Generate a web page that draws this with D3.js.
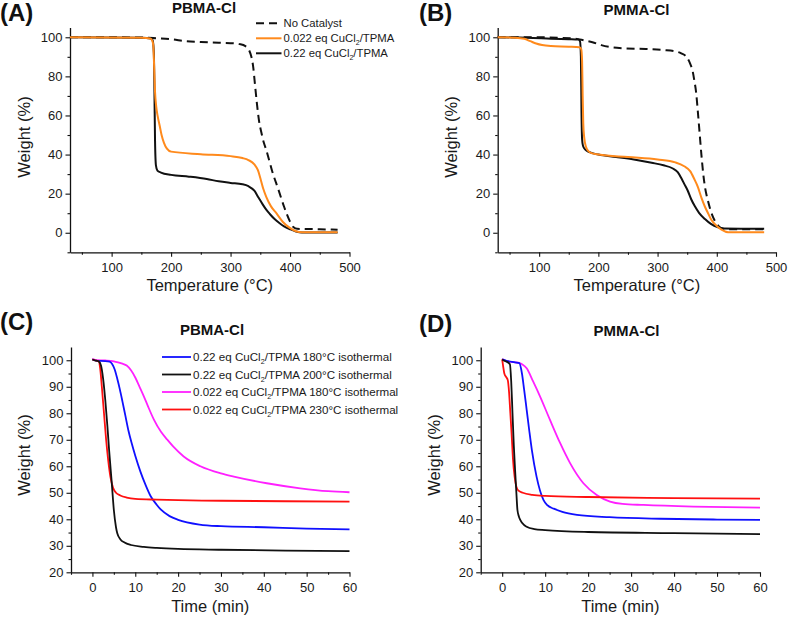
<!DOCTYPE html>
<html><head><meta charset="utf-8">
<script src="https://cdn.jsdelivr.net/npm/d3@7"></script>
<style>
html,body{margin:0;padding:0;background:#fff;}
svg{display:block;font-family:"Liberation Sans",Arial,sans-serif;}
</style></head>
<body><svg id="chart" width="788" height="619"></svg>
<script>
// ---------- DATA ----------
// Panel A: PBMA-Cl TGA  [temperature °C, weight %]
const pbmaNoCatalyst = [[30,100],[100,100],[160,99.8],[175,99.5],[200,99],[225,98],[250,97.6],[280,97.2],[300,97],[315,96.5],[325,95.5],[331,93.5],[335,90],[338,85],[341,76],[344,67],[348,57],[352,51],[356,46],[360,42.4],[365,37],[370,31.5],[380,22.5],[390,13.3],[400,5.7],[406,2.8],[412,2],[450,1.8],[480,1.5]];
const pbmaCat0022 = [[30,100],[150,99.8],[165,99.4],[168,98.5],[170,96],[171.5,85],[173,72],[175,64.5],[177.5,59.5],[181,54.5],[184,50],[188,46],[193,43],[200,41.5],[250,40.2],[300,39.2],[320,38.2],[330,37.2],[340,35],[346,32],[350,28],[355,22.5],[360,18.4],[368,13.5],[377,10],[388,5.5],[399,2.6],[410,0.8],[420,0.3],[480,0.2]];
const pbmaCat022 = [[30,100],[150,99.8],[166,99.4],[169,98.5],[171,92],[172,72],[173,47],[174.5,34.5],[177,31.8],[183,30.8],[200,29.6],[230,28.7],[260,27.5],[280,26.3],[300,25.5],[320,24.8],[330,23.8],[340,21.5],[347,18],[354,14.5],[360,11.8],[366,9.6],[374,7],[382,5],[390,3.3],[400,1.8],[410,0.6],[420,0.1],[480,0.1]];
// Panel B: PMMA-Cl TGA
const pmmaNoCatalyst = [[30,100],[100,100],[160,99.3],[175,98.5],[190,97.5],[205,96],[220,95],[240,94.4],[280,94],[310,93.5],[330,92.8],[340,91.8],[350,89.5],[355,86.5],[359,83],[362,78],[365,72],[368,62],[371,51],[374,40],[377,30.5],[380,23.5],[385,16.5],[390,11],[396,6.5],[402,3.8],[408,2.2],[420,1.8],[480,1.8]];
const pmmaCat0022 = [[30,100],[60,99.8],[75,99.2],[85,98],[95,96.8],[105,96],[120,95.5],[150,95.2],[168,94.9],[171,94],[172.5,88],[173.5,70],[174.5,56],[176,49],[179,44],[184,41.5],[190,40.6],[200,40],[250,38.7],[300,37.5],[330,36],[345,34],[355,31.5],[362,27.5],[368,23.5],[374,18],[380,13.3],[386,9.5],[391,6.5],[400,3.5],[408,1.6],[419,0.3],[480,0.2]];
const pmmaCat022 = [[30,100],[80,99.8],[120,99.3],[150,99],[166,98.8],[169,98],[170.5,90],[171.5,62],[172.5,48],[174,44.5],[178,42.5],[185,41.2],[200,40],[230,38.8],[260,37.5],[290,35.8],[310,34.5],[325,33],[334,31],[340,28],[345,25],[351,21.5],[357,17],[363,13.5],[370,10.2],[380,7],[390,4.5],[402,2.8],[412,2.2],[480,2]];
// Panel C: PBMA-Cl isothermal [time min, weight %]
const pbmaIso022at180 = [[0,100.3],[1,99.8],[3,99.7],[4,99.5],[4.6,98.6],[5.2,96.5],[5.8,93],[6.4,89],[7,84.5],[7.7,79],[8.4,73.5],[9.2,68.5],[10,64],[11.2,58],[12.4,53],[13.6,48.7],[15,45.5],[16,43.6],[18,41.2],[20,39.8],[25,38],[30,37.4],[40,37],[50,36.5],[60,36.2]];
const pbmaIso022at200 = [[0,100.3],[0.5,100],[1.5,99.5],[2,98],[2.5,93],[3,85],[3.5,75],[3.9,66],[4.5,54],[5,43.5],[5.5,37],[5.8,34.7],[6.5,32.5],[7.5,31.2],[9,30.3],[12,29.6],[15,29.2],[20,28.8],[30,28.5],[45,28.2],[60,28]];
const pbmaIso0022at180 = [[0,100.5],[1,100],[3,99.9],[5,99.6],[6,99.2],[7,98.7],[8,98],[9,96.2],[10,93.5],[11,90],[12,86.4],[13,82.5],[14.35,77.6],[16,73],[17.5,70],[19,67.2],[21.3,63.7],[25.2,60],[30,57.3],[33,56.1],[40.7,53.6],[48.5,51.7],[55,50.6],[60,50.2]];
const pbmaIso0022at230 = [[0,100.3],[0.5,100],[1.5,99.5],[1.8,97],[2.2,90],[2.7,80],[3.2,70],[3.7,62],[4.2,56],[4.8,52],[5.5,50],[6.5,49],[8,48.2],[10,47.7],[15,47.4],[20,47.2],[30,47],[45,46.8],[60,46.7]];
// Panel D: PMMA-Cl isothermal
const pmmaIso022at180 = [[0,100.3],[1,99.8],[3,99.2],[4,98.9],[4.6,95],[5.1,89],[5.7,81.3],[6.3,73.5],[6.9,66.2],[8,56.1],[9.6,47.3],[10.5,45.3],[12,44],[14,42.8],[17.4,41.7],[25,40.8],[36.7,40.2],[50,39.9],[60,39.8]];
const pmmaIso022at200 = [[0,100.3],[0.5,99.8],[1,99.5],[1.8,98.5],[2.1,92],[2.4,80],[2.7,68],[3,58.7],[3.3,50],[3.55,43.5],[3.9,41],[4.2,39.8],[5,38],[5.7,37.2],[7.5,36.3],[10,35.9],[20,35.2],[40,34.8],[60,34.4]];
const pmmaIso0022at180 = [[0,100.5],[1,99.7],[2,99.4],[3,99.2],[4,99],[4.6,98.5],[5.7,97],[7.2,92],[8.8,86.4],[11.1,77.6],[13.5,68.7],[15.8,61.2],[18.9,53.6],[22,49.2],[25.1,46.7],[28,45.8],[32.9,45.4],[44.5,44.8],[60,44.4]];
const pmmaIso0022at230 = [[0,100.3],[0.2,98],[0.5,95],[1,93.5],[1.3,92.5],[1.6,88],[1.9,80],[2.2,72],[2.5,63],[2.9,56],[3.3,52.3],[3.8,50.8],[4.8,50],[7,49.2],[10,48.8],[20,48.4],[40,48],[60,47.8]];

// Ticks
const tempTicks = [100,200,300,400,500];
const tempMinor = [50,150,250,350,450];
const tgaWeightTicks = [0,20,40,60,80,100];
const tgaWeightMinor = [-10,10,30,50,70,90];
const timeTicks = [0,10,20,30,40,50,60];
const timeMinor = [-5,5,15,25,35,45,55];
const isoWeightTicks = [20,30,40,50,60,70,80,90,100];
const isoWeightMinor = [25,35,45,55,65,75,85,95];

const legendTGA = ["No Catalyst","0.022 eq CuCl|2|/TPMA","0.22 eq CuCl|2|/TPMA"];
const legendIso = ["0.22 eq CuCl|2|/TPMA 180°C isothermal","0.22 eq CuCl|2|/TPMA 200°C isothermal","0.022 eq CuCl|2|/TPMA 180°C isothermal","0.022 eq CuCl|2|/TPMA 230°C isothermal"];

const ORANGE = "#FF8A1C", BLUE = "#1010FF", MAGENTA = "#FF20FF", RED = "#FF1010";

// ---------- DRAWING ----------
const svg = d3.select("#chart");
const FONT = '"Liberation Sans",Arial,sans-serif';

function richText(sel, s) {
  const parts = s.split("|");
  sel.append("tspan").text(parts[0]);
  if (parts.length > 1) {
    sel.append("tspan").attr("dy", 3).attr("font-size", "0.62em").text(parts[1]);
    sel.append("tspan").attr("dy", -3).text(parts[2]);
  }
}

function panel(o) {
  const g = svg.append("g");
  const x = d3.scaleLinear().domain(o.xDomain).range(o.xRange);
  const y = d3.scaleLinear().domain(o.yDomain).range(o.yRange);
  const xb = o.yRange[0];
  const ax = o.xRange[0];

  // minor ticks
  g.append("g").attr("transform", `translate(0,${xb})`)
    .call(d3.axisBottom(x).tickValues(o.xMinor).tickSize(2.5).tickFormat(""))
    .call(a => a.select(".domain").remove())
    .selectAll("line").attr("stroke", "#111").attr("stroke-width", 1.1);
  g.append("g").attr("transform", `translate(${ax},0)`)
    .call(d3.axisLeft(y).tickValues(o.yMinor).tickSize(2.5).tickFormat(""))
    .call(a => a.select(".domain").remove())
    .selectAll("line").attr("stroke", "#111").attr("stroke-width", 1.1);

  const xa = g.append("g").attr("transform", `translate(0,${xb})`)
    .call(d3.axisBottom(x).tickValues(o.xTicks).tickSize(4.5).tickSizeOuter(0).tickPadding(5.5));
  const ya = g.append("g").attr("transform", `translate(${ax},0)`)
    .call(d3.axisLeft(y).tickValues(o.yTicks).tickSize(4.5).tickSizeOuter(0).tickPadding(3));
  [xa, ya].forEach(a => {
    a.attr("font-family", FONT).attr("font-size", 13);
    a.select(".domain").attr("stroke", "#111").attr("stroke-width", 1.3);
    a.selectAll(".tick line").attr("stroke", "#111").attr("stroke-width", 1.1);
    a.selectAll(".tick text").attr("fill", "#1a1a1a");
  });

  // axis titles
  g.append("text").attr("x", (o.xRange[0] + o.xRange[1]) / 2).attr("y", o.xTitleY)
    .attr("text-anchor", "middle").attr("font-size", 16.5).attr("fill", "#1a1a1a").text(o.xTitle);
  g.append("text").attr("transform", `translate(${o.yTitleX},${o.yTitleCY}) rotate(-90)`)
    .attr("text-anchor", "middle").attr("font-size", 16.5).attr("fill", "#1a1a1a").text("Weight (%)");

  // panel label & title
  g.append("text").attr("x", o.labelX).attr("y", o.labelY).attr("font-size", 24)
    .attr("font-weight", "bold").attr("fill", "#111").text(o.label);
  g.append("text").attr("x", o.titleX).attr("y", o.titleY).attr("font-size", 15)
    .attr("font-weight", "bold").attr("text-anchor", "middle").attr("fill", "#111").text(o.title);

  const line = d3.line().x(d => x(d[0])).y(d => y(d[1])).curve(d3.curveMonotoneX);
  o.series.forEach(s => {
    g.append("path").datum(s.data).attr("d", line).attr("fill", "none")
      .attr("stroke", s.color).attr("stroke-width", s.width || 2)
      .attr("stroke-dasharray", s.dash || null).attr("stroke-linejoin", "round");
  });

  if (o.legend) {
    const L = o.legend;
    L.items.forEach((it, i) => {
      const yy = L.y + i * L.dy;
      g.append("line").attr("x1", L.x1).attr("x2", L.x2).attr("y1", yy).attr("y2", yy)
        .attr("stroke", it.color).attr("stroke-width", it.width || 2).attr("stroke-dasharray", it.dash || null);
      const t = g.append("text").attr("x", L.tx).attr("y", yy + L.fs * 0.36)
        .attr("font-size", L.fs).attr("fill", "#1a1a1a");
      richText(t, it.text);
    });
  }
}

panel({
  xDomain: [30, 500], xRange: [70, 349.5], yDomain: [-10, 105], yRange: [252.3, 27.5],
  xTicks: tempTicks, xMinor: tempMinor, yTicks: tgaWeightTicks, yMinor: tgaWeightMinor,
  xTitle: "Temperature (°C)", xTitleY: 291, yTitleX: 30, yTitleCY: 137,
  label: "(A)", labelX: 0, labelY: 21, title: "PBMA-Cl", titleX: 204, titleY: 13,
  series: [
    {data: pbmaNoCatalyst, color: "#111", dash: "8,5"},
    {data: pbmaCat022, color: "#111"},
    {data: pbmaCat0022, color: ORANGE}
  ],
  legend: {x1: 256, x2: 281.5, tx: 283.5, y: 23.3, dy: 15, fs: 11.3, items: [
    {text: legendTGA[0], color: "#111", dash: "8,5"},
    {text: legendTGA[1], color: ORANGE},
    {text: legendTGA[2], color: "#111"}
  ]}
});

panel({
  xDomain: [30, 500], xRange: [497.7, 776], yDomain: [-10, 105], yRange: [252.3, 27.5],
  xTicks: tempTicks, xMinor: tempMinor, yTicks: tgaWeightTicks, yMinor: tgaWeightMinor,
  xTitle: "Temperature (°C)", xTitleY: 291, yTitleX: 457, yTitleCY: 137,
  label: "(B)", labelX: 419, labelY: 21, title: "PMMA-Cl", titleX: 636.5, titleY: 15,
  series: [
    {data: pmmaNoCatalyst, color: "#111", dash: "8,5"},
    {data: pmmaCat022, color: "#111"},
    {data: pmmaCat0022, color: ORANGE}
  ]
});

panel({
  xDomain: [-5, 60], xRange: [71, 349.5], yDomain: [20, 105], yRange: [572.3, 347],
  xTicks: timeTicks, xMinor: timeMinor, yTicks: isoWeightTicks, yMinor: isoWeightMinor,
  xTitle: "Time (min)", xTitleY: 612, yTitleX: 30, yTitleCY: 455,
  label: "(C)", labelX: 0, labelY: 330, title: "PBMA-Cl", titleX: 212, titleY: 335,
  series: [
    {data: pbmaIso0022at180, color: MAGENTA, width: 1.8},
    {data: pbmaIso022at180, color: BLUE, width: 1.8},
    {data: pbmaIso0022at230, color: RED, width: 1.8},
    {data: pbmaIso022at200, color: "#111", width: 1.8}
  ],
  legend: {x1: 162, x2: 191, tx: 193, y: 357, dy: 17.5, fs: 11.6, items: [
    {text: legendIso[0], color: BLUE, width: 1.8},
    {text: legendIso[1], color: "#111", width: 1.8},
    {text: legendIso[2], color: MAGENTA, width: 1.8},
    {text: legendIso[3], color: RED, width: 1.8}
  ]}
});

panel({
  xDomain: [-5, 60], xRange: [480.7, 760], yDomain: [20, 105], yRange: [572.3, 347],
  xTicks: timeTicks, xMinor: timeMinor, yTicks: isoWeightTicks, yMinor: isoWeightMinor,
  xTitle: "Time (min)", xTitleY: 612, yTitleX: 440, yTitleCY: 455,
  label: "(D)", labelX: 419, labelY: 332, title: "PMMA-Cl", titleX: 626.5, titleY: 336,
  series: [
    {data: pmmaIso0022at180, color: MAGENTA, width: 1.8},
    {data: pmmaIso022at180, color: BLUE, width: 1.8},
    {data: pmmaIso0022at230, color: RED, width: 1.8},
    {data: pmmaIso022at200, color: "#111", width: 1.8}
  ]
});
</script></body></html>
